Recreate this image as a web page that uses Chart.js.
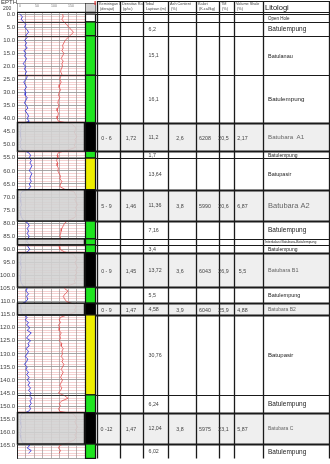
<!DOCTYPE html>
<html>
<head>
<meta charset="utf-8">
<script src="https://cdn.jsdelivr.net/npm/chart.js@4.4.1/dist/chart.umd.min.js"></script>
<style>
  html, body { margin: 0; padding: 0; background: #fff; }
  #wrap { width: 330px; height: 464px; position: relative; }
</style>
</head>
<body>
<div id="wrap"><canvas id="logChart" width="330" height="464"></canvas></div>
<script>
// depth samples (m) for the two log curves
var logDepth = [0,1,2,3,4,5,6,7,8,9,10,11,12,13,14,15,16,17,18,19,20,21,22,23,24,25,26,27,28,29,
  30,31,32,33,34,35,36,37,38,39,40,41,42,43,44,45,46,47,48,49,50,51,52,53,54,55,56,57,58,59,
  60,61,62,63,64,65,66,67,68,69,70,71,72,73,74,75,76,77,78,79,80,81,82,83,84,85,86,87,88,89,
  90,91,92,93,94,95,96,97,98,99,100,101,102,103,104,105,106,107,108,109,110,111,112,113,114,115,116,117,118,119,
  120,121,122,123,124,125,126,127,128,129,130,131,132,133,134,135,136,137,138,139,140,141,142,143,144,145,146,147,148,149,
  150,151,152,153,154,155,156,157,158,159,160,161,162,163,164,165,166,167,168];

// blue curve (gamma ray, 0-200)
var grLog = [8,16,12,20,26,22,30,34,26,30,
  22,28,24,30,20,26,22,28,24,18,
  26,22,28,24,30,26,20,24,28,22,
  26,24,30,26,22,28,32,24,30,34,
  30,36,14,10,12,9,11,10,13,9,
  12,10,16,34,40,36,42,38,44,40,
  36,44,40,38,42,36,40,34,14,10,
  12,9,11,13,10,12,9,11,14,20,
  32,36,30,34,30,36,32,28,36,32,
  38,30,14,10,12,9,11,13,10,12,
  9,11,10,13,18,30,26,34,28,32,
  26,12,10,13,11,18,30,24,34,28,
  38,30,42,34,28,40,32,36,26,34,
  30,24,32,28,22,30,26,34,28,36,
  30,38,32,40,34,42,36,44,38,42,
  36,40,34,14,10,12,9,11,13,10,
  12,9,11,13,16,38,30,42,34];

// red curve (0-200)
var denLog = [134,136,132,138,146,152,160,166,158,150,
  142,138,134,136,132,138,134,130,136,132,
  134,130,128,132,128,126,130,126,124,128,
  124,122,126,122,120,124,120,118,122,120,
  118,122,160,170,174,168,172,176,170,174,
  168,172,150,122,118,120,116,120,118,122,
  120,124,128,126,132,128,126,140,168,172,
  176,170,174,178,172,176,170,174,168,150,
  140,136,132,130,128,126,130,124,128,124,
  126,140,166,172,176,170,174,178,172,176,
  170,174,168,172,148,140,150,142,136,140,
  146,168,174,170,172,150,128,124,128,122,
  126,124,130,126,128,124,132,130,136,132,
  134,130,136,132,138,134,130,136,132,128,
  134,130,126,132,128,122,140,150,132,124,
  128,122,126,166,172,176,170,174,178,172,
  176,170,174,168,150,126,122,128,124];

var depthTicks = [0,5,10,15,20,25,30,35,40,45,50,55,60,65,70,75,80,85,90,95,100,105,110,115,120,125,130,135,140,145,150,155,160,165];

// lithology layers
var layerTop  = [0, 3.0, 8.3, 23.4, 41.5, 52.5, 55.1, 67.2, 79.2, 86.0, 88.3, 91.3, 104.5, 110.6, 115.1, 145.7, 152.5, 164.5];
var layerBase = [3.0, 8.3, 23.4, 41.5, 52.5, 55.1, 67.2, 79.2, 86.0, 88.3, 91.3, 104.5, 110.6, 115.1, 145.7, 152.5, 164.5, 170];
var layerType = ['open','clay','silt','clay','coal','clay','sand','coal','clay','inter','clay','coal','clay','coal','sand','clay','coal','clay'];
var layerName = ['Open Hole','Batulempung','Batulanau','Batulempung','Batubara  A1','Batulempung','Batupasir','Batubara A2',
  'Batulempung','Interkalasi Batubara-Batulempung','Batulempung','Batubara B1','Batulempung','Batubara B2','Batupasir',
  'Batulempung','Batubara C','Batulempung'];
var layerThick = ['','6,2','15,1','16,1','11,2','1,7','13,64','11,36','7,16','','3,4','13,72','5,5','4,58','30,76','6,24','12,04','6,02'];

// coal seam properties, in the order the coal rows appear
var coalDip    = ['0 - 6','5 - 9','0 - 9','0 - 9','0 -12'];
var coalDens   = ['1,72','1,46','1,45','1,47','1,47'];
var coalAsh    = ['2,6','3,8','3,6','3,9','3,8'];
var coalKalori = ['6208','5990','6043','6040','5975'];
var coalTM     = ['20,5','20,6','26,9','25,9','23,1'];
var coalVsh    = ['2,17','6,87','5,5','4,88','5,87'];

var headerTitles = [['Kemiringan Lap.','(derajat)'],['Densitas Rata2','(g/cc)'],['Tebal','Lapisan (m)'],
  ['Ash Content','(%)'],['Kalori','(K.cal/kg)'],['TM','(%)'],['Volume Shale','(%)']];

var FONT = '"Liberation Sans", Arial, sans-serif';
var tableCols = [97, 120, 143, 168, 196, 219, 234, 263, 329];
var valueX = [106.5, 131, 180, 205, 223.5, 242.5];
var nameSize = [4.5, 6.5, 5.5, 6.2, 6.2, 5, 5.5, 7.5, 6.5, 3.4, 5, 5.5, 5.5, 5, 6, 6.5, 5, 6.5];
var litColor = { open: '#ffffff', clay: '#1fe41f', silt: '#1fe41f', inter: '#1fe41f', sand: '#eeee00', coal: '#000000' };

var wellPlugin = {
  id: 'wellLog',
  beforeDraw: function(chart) {
    var c = chart.ctx;
    c.save();
    c.fillStyle = '#fff';
    c.fillRect(0, 0, chart.width, chart.height);
    c.restore();
  },
  afterDatasetsDraw: function(chart) {
    var c = chart.ctx, ys = chart.scales.y, a = chart.chartArea;
    c.save();
    layerTop.forEach(function(top, i) {
      var y0 = ys.getPixelForValue(top), y1 = ys.getPixelForValue(layerBase[i]);
      var t = layerType[i];
      if (t === 'coal' || t === 'inter') {
        c.fillStyle = 'rgba(210,210,210,0.88)';
        c.fillRect(a.left, y0, a.right - a.left, y1 - y0);
        c.strokeStyle = '#111';
        c.lineWidth = 1.5;
        c.strokeRect(a.left + 0.5, y0, a.right - a.left - 1, y1 - y0);
      } else if (i > 0) {
        c.strokeStyle = '#333';
        c.lineWidth = 1;
        c.beginPath();
        c.moveTo(a.left, Math.round(y0) + 0.5);
        c.lineTo(a.right, Math.round(y0) + 0.5);
        c.stroke();
      }
    });
    c.restore();
  },
  afterDraw: function(chart) {
    var c = chart.ctx, ys = chart.scales.y, xs = chart.scales.xGR, a = chart.chartArea;
    var colL = a.right, colR = a.right + 10;
    var headTop = 1, headBot = a.top;
    c.save();

    // track right border
    c.strokeStyle = '#111';
    c.lineWidth = 1;
    c.beginPath();
    c.moveTo(a.right + 0.5, headTop + 2);
    c.lineTo(a.right + 0.5, a.bottom);
    c.stroke();

    // track header
    c.fillStyle = '#333';
    c.font = '6px ' + FONT;
    c.textAlign = 'left';
    c.textBaseline = 'alphabetic';
    c.fillText('EPTH', 1, 4);
    c.font = '5px ' + FONT;
    c.fillText('200', 3, 10);
    c.font = '3.5px ' + FONT;
    c.fillStyle = '#777';
    c.textAlign = 'center';
    [0, 50, 100, 150].forEach(function(v) {
      c.fillText(String(v), xs.getPixelForValue(v) + 3, 7);
    });
    c.strokeStyle = '#666';
    c.lineWidth = 0.6;
    c.strokeRect(a.left + 0.5, 3.5, a.right - a.left, headBot - 3.5);
    c.fillStyle = '#d4d4d4';
    c.fillRect(colL, 3, colR - colL, headBot - 3);
    c.strokeStyle = '#222';
    c.strokeRect(colL + 0.5, 3.5, colR - colL, headBot - 3.5);
    c.fillStyle = '#e03030';
    c.fillRect(colR - 0.5, 1, 1.2, 4);

    // lithology colour column
    layerTop.forEach(function(top, i) {
      var y0 = ys.getPixelForValue(top), y1 = ys.getPixelForValue(layerBase[i]);
      c.fillStyle = litColor[layerType[i]];
      c.fillRect(colL, y0, colR - colL, y1 - y0);
      c.strokeStyle = '#111';
      c.lineWidth = 1.2;
      c.strokeRect(colL + 0.5, y0, colR - colL, y1 - y0);
    });

    // table: coal row shading
    var tL = tableCols[0], tR = tableCols[tableCols.length - 1];
    layerTop.forEach(function(top, i) {
      if (layerType[i] !== 'coal') return;
      var y0 = ys.getPixelForValue(top), y1 = ys.getPixelForValue(layerBase[i]);
      c.fillStyle = '#efefef';
      c.fillRect(tL, y0, tR - tL, y1 - y0);
    });

    // table: row lines
    c.strokeStyle = '#1a1a1a';
    layerTop.forEach(function(top, i) {
      var y0 = Math.round(ys.getPixelForValue(top)) + 0.5;
      var heavy = layerType[i] === 'coal' || (i > 0 && layerType[i - 1] === 'coal');
      c.lineWidth = heavy ? 1.8 : 1.2;
      c.beginPath();
      c.moveTo(colR, y0);
      c.lineTo(tR, y0);
      c.stroke();
    });
    c.lineWidth = 1;
    c.beginPath();
    c.moveTo(tL, headTop + 0.5); c.lineTo(tR, headTop + 0.5);
    c.moveTo(a.left, headBot + 0.5); c.lineTo(tR, headBot + 0.5);
    c.stroke();

    // table: column lines
    c.lineWidth = 1.3;
    tableCols.forEach(function(x) {
      c.beginPath();
      c.moveTo(x + 0.5, headTop);
      c.lineTo(x + 0.5, a.bottom);
      c.stroke();
    });

    // header titles
    c.fillStyle = '#444';
    c.font = '3.8px ' + FONT;
    c.textAlign = 'left';
    headerTitles.forEach(function(lines, k) {
      c.save();
      c.beginPath();
      c.rect(tableCols[k] + 1, headTop, tableCols[k + 1] - tableCols[k] - 1, headBot - headTop);
      c.clip();
      c.fillText(lines[0], tableCols[k] + 2, 5.2);
      c.fillText(lines[1], tableCols[k] + 3, 9.6);
      c.restore();
    });
    c.fillStyle = '#111';
    c.font = '7.5px ' + FONT;
    c.fillText('Litologi', 265, 10);

    // row texts
    var coalIdx = 0;
    c.textBaseline = 'middle';
    layerTop.forEach(function(top, i) {
      var y0 = ys.getPixelForValue(top), y1 = ys.getPixelForValue(layerBase[i]);
      var ym = (y0 + y1) / 2 + 0.5;
      var isCoal = layerType[i] === 'coal';
      c.fillStyle = isCoal ? '#666' : '#222';
      c.font = nameSize[i] + 'px ' + FONT;
      c.textAlign = 'left';
      c.fillText(layerName[i], layerType[i] === 'inter' ? 265 : 268, ym);
      c.fillStyle = '#444';
      c.font = '5.3px ' + FONT;
      if (layerThick[i]) c.fillText(layerThick[i], 148.5, ym);
      if (isCoal) {
        var vals = [coalDip[coalIdx], coalDens[coalIdx], coalAsh[coalIdx], coalKalori[coalIdx], coalTM[coalIdx], coalVsh[coalIdx]];
        c.textAlign = 'center';
        vals.forEach(function(v, k) { c.fillText(v, valueX[k], ym + 1); });
        coalIdx++;
      }
    });
    c.restore();
  }
};

function toPoints(values) {
  return values.map(function(v, i) { return { x: v, y: logDepth[i] }; });
}

new Chart(document.getElementById('logChart'), {
  type: 'line',
  data: {
    datasets: [
      {
        label: 'GR',
        data: toPoints(grLog),
        xAxisID: 'xGR',
        yAxisID: 'y',
        borderColor: '#3a3ad8',
        borderWidth: 0.9,
        pointRadius: 0,
        tension: 0
      },
      {
        label: 'RHOB',
        data: toPoints(denLog),
        xAxisID: 'xDen',
        yAxisID: 'y',
        borderColor: '#e05050',
        borderWidth: 0.8,
        pointRadius: 0,
        tension: 0
      }
    ]
  },
  options: {
    responsive: false,
    devicePixelRatio: 1,
    animation: false,
    indexAxis: 'y',
    layout: { padding: { left: 0, right: 245, top: 12, bottom: 0 } },
    plugins: {
      legend: { display: false },
      title: { display: false },
      tooltip: { enabled: false }
    },
    scales: {
      y: {
        type: 'linear',
        position: 'left',
        reverse: true,
        min: -0.8,
        max: 170,
        afterBuildTicks: function(axis) {
          axis.ticks = axis.ticks.filter(function(t) {
            return t.value >= 0 && Math.abs(t.value - Math.round(t.value)) < 1e-6;
          });
        },
        afterFit: function(axis) { axis.width = 17; },
        ticks: {
          stepSize: 1,
          includeBounds: false,
          maxTicksLimit: 1000,
          autoSkip: false,
          padding: 2,
          color: '#444',
          font: { size: 6, family: FONT },
          callback: function(value) {
            return depthTicks.indexOf(value) !== -1 ? value.toFixed(1) : '';
          }
        },
        grid: {
          drawTicks: false,
          lineWidth: 0.8,
          color: function(ctx) {
            if (!ctx.tick) return '#f2c6c6';
            return ctx.tick.value % 5 === 0 ? '#8f8f8f' : '#f2c6c6';
          }
        },
        border: { display: true, color: '#222', width: 1 }
      },
      xGR: {
        type: 'linear',
        position: 'top',
        min: 0,
        max: 200,
        afterFit: function(axis) { axis.height = 0; },
        ticks: { display: false, stepSize: 25 },
        grid: { drawTicks: false, color: '#a09494', lineWidth: 0.7 },
        border: { display: false }
      },
      xDen: {
        type: 'linear',
        position: 'top',
        min: 0,
        max: 200,
        display: false
      }
    }
  },
  plugins: [wellPlugin]
});
</script>
</body>
</html>
